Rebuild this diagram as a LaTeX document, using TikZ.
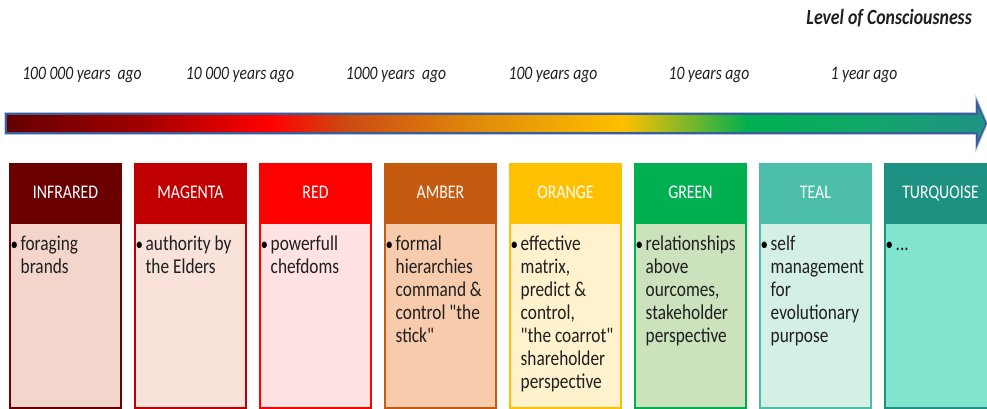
\documentclass[tikz,border=0pt]{standalone}
\usepackage{fontspec}
\setmainfont{Carlito}[Ligatures=TeXOff]
\usepackage{graphicx}
\definecolor{arrowline}{HTML}{3B5E9A}
\definecolor{arrowglow}{HTML}{AFC0DE}
\definecolor{cA}{HTML}{650000}
\definecolor{cB}{HTML}{A00000}
\definecolor{cC}{HTML}{FF0000}
\definecolor{cD}{HTML}{CC4A12}
\definecolor{cE}{HTML}{E08C0A}
\definecolor{cF}{HTML}{FFC000}
\definecolor{cG}{HTML}{00B050}
\definecolor{cH}{HTML}{10A868}
\definecolor{cI}{HTML}{1E9484}
\definecolor{hInfra}{HTML}{6B0000}
\definecolor{bInfra}{HTML}{F3D5CB}
\definecolor{hMag}{HTML}{C00000}
\definecolor{bMag}{HTML}{F8E2DA}
\definecolor{hRed}{HTML}{FF0000}
\definecolor{bRed}{HTML}{FFE2E2}
\definecolor{hAmb}{HTML}{C55A11}
\definecolor{bAmb}{HTML}{F8CBAD}
\definecolor{hOra}{HTML}{FFC000}
\definecolor{bOra}{HTML}{FFF2CC}
\definecolor{hGre}{HTML}{00B050}
\definecolor{bGre}{HTML}{CBE2BD}
\definecolor{hTea}{HTML}{4BBDA8}
\definecolor{bTea}{HTML}{D4EFE4}
\definecolor{hTur}{HTML}{1E9282}
\definecolor{bTur}{HTML}{80E5CC}
\newcommand\tall[1]{\scalebox{1}[1.22]{#1}}
\newcommand\lvcol[6]{%
  \fill[#3] (#1,-163) rectangle ++(113,-246);
  \fill[#4] (#1+2,-224) rectangle (#1+111,-407);
  \node[headtxt] (h#2) at (#1+56.5,-198) {\tall{#5}};
  \node[bullettxt] (u#2) at (#1+1.5,-250) {\tall{•}};
  \node[bodytxt] (b#2) at (#1+11.5,-250) {\tall{\begin{tabular}[t]{@{}l@{}}#6\end{tabular}}};
}
\begin{document}
\begin{tikzpicture}[x=1pt,y=1pt,
  headtxt/.style={anchor=base,text=white,inner sep=0pt,font=\fontsize{15.8}{18}\selectfont},
  bodytxt/.style={anchor=base west,text=black!88,inner sep=0pt,font=\fontsize{17.3}{18.95}\selectfont},
  bullettxt/.style={anchor=base west,text=black,inner sep=0pt,font=\fontsize{15}{18}\selectfont},
  yeartxt/.style={anchor=base,inner sep=0pt,text=black!88,font=\itshape\fontsize{15.6}{18}\selectfont},
  titletxt/.style={anchor=base east,inner sep=0pt,text=black!88,font=\bfseries\itshape\fontsize{17.8}{20}\selectfont}]
\useasboundingbox (0,0) rectangle (987,-409);
\clip (0,0) rectangle (987,-409);
% title and year labels
\node[titletxt] (title) at (972,-25) {\tall{Level of Consciousness}};
\node[yeartxt] (t0) at (82,-80) {\tall{100 000 years\ \ ago}};
\node[yeartxt] (t1) at (240,-80) {\tall{10 000 years ago}};
\node[yeartxt] (t2) at (396,-80) {\tall{1000 years\ \ ago}};
\node[yeartxt] (t3) at (553,-80) {\tall{100 years ago}};
\node[yeartxt] (t4) at (709,-80) {\tall{10 years ago}};
\node[yeartxt] (t5) at (864,-80) {\tall{1 year ago}};
% gradient arrow
\draw[arrowglow,line width=3.5pt,line join=miter] (6,-114) -- (977,-114) -- (977,-102.5) -- (986,-123.5) -- (977,-144.5) -- (977,-133) -- (6,-133) -- cycle;
\shade[left color=cA,right color=cB] (6,-114) rectangle (140.5,-133);
\shade[left color=cB,right color=cC] (140,-114) rectangle (270.5,-133);
\shade[left color=cC,right color=cD] (270,-114) rectangle (345.5,-133);
\shade[left color=cD,right color=cE] (345,-114) rectangle (480.5,-133);
\shade[left color=cE,right color=cF] (480,-114) rectangle (623.5,-133);
\shade[left color=cF,right color=cG] (623,-114) rectangle (747.5,-133);
\shade[left color=cG,right color=cH] (747,-114) rectangle (860.5,-133);
\shade[left color=cH,right color=cI] (860,-114) rectangle (978,-133);
\fill[cI] (977,-102.5) -- (986,-123.5) -- (977,-144.5) -- cycle;
\draw[arrowline,line width=1.6pt,line join=miter] (6,-114) -- (977,-114) -- (977,-102.5) -- (986,-123.5) -- (977,-144.5) -- (977,-133) -- (6,-133) -- cycle;
% columns
\lvcol{9}{0}{hInfra}{bInfra}{INFRARED}{foraging\\brands}
\lvcol{134}{1}{hMag}{bMag}{MAGENTA}{authority by\\the Elders}
\lvcol{259}{2}{hRed}{bRed}{RED}{powerfull\\chefdoms}
\lvcol{384}{3}{hAmb}{bAmb}{AMBER}{formal\\hierarchies\\command \&\\control "the\\stick"}
\lvcol{509}{4}{hOra}{bOra}{ORANGE}{effective\\matrix,\\predict \&\\control,\\"the coarrot"\\shareholder\\perspective}
\lvcol{634}{5}{hGre}{bGre}{GREEN}{relationships\\above\\ourcomes,\\stakeholder\\perspective}
\lvcol{759}{6}{hTea}{bTea}{TEAL}{self\\management\\for\\evolutionary\\purpose}
\lvcol{884}{7}{hTur}{bTur}{TURQUOISE}{...}
\end{tikzpicture}
\end{document}
